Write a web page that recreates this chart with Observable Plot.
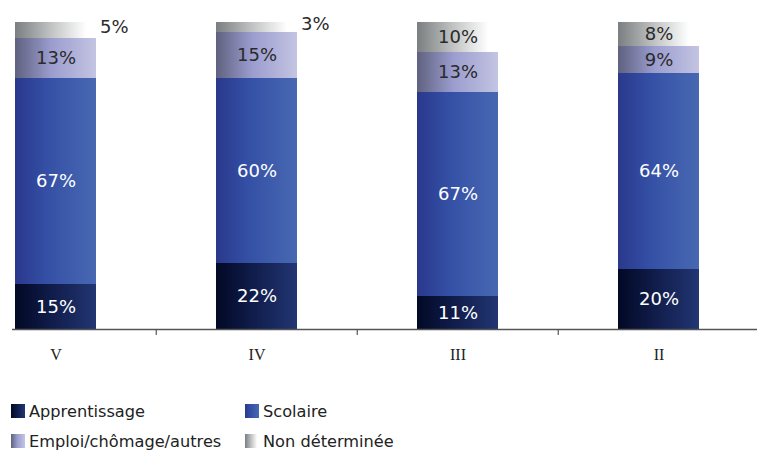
<!DOCTYPE html>
<html><head><meta charset="utf-8">
<script src="https://cdn.jsdelivr.net/npm/d3@7"></script>
<script src="https://cdn.jsdelivr.net/npm/@observablehq/plot@0.6"></script>
<style>
html,body{margin:0;padding:0;background:#fff;overflow:hidden;}
#chart svg{display:block;}
.legend{font-family:"DejaVu Sans",sans-serif;font-size:16.2px;color:#222;}
.row{display:flex;height:30px;align-items:center;}
.item{display:flex;align-items:center;}
.item.c1{width:234px;padding-left:11px;}
.sw{width:14px;height:14px;margin-right:4px;}
</style>
</head><body>
<div id="chart"></div>
<div class="legend" id="legend"></div>
<script>
const categories = ["V", "IV", "III", "II"];
const series = ["Apprentissage", "Scolaire", "Emploi/chômage/autres", "Non déterminée"];
const apprentissage = [14.7, 21.6, 10.6, 19.6];
const scolaire      = [67.2, 60.2, 66.6, 63.8];
const emploi        = [12.9, 15.0, 12.9, 8.8];
const nonDeterminee = [5.2, 3.2, 9.9, 7.8];

const gradStops = [
  [[0, "#020925"], [0.45, "#101c4a"], [1, "#223673"]],
  [[0, "#2a388c"], [0.4, "#3450a5"], [1, "#4868b2"]],
  [[0, "#5e617e"], [0.45, "#9b9dcf"], [1, "#c4c4e2"]],
  [[0, "#7a7e80"], [0.5, "#c9cbcb"], [0.88, "#ffffff"], [1, "#ffffff"]]
];
const gradIds = series.map((s, i) => "grad" + i);

const valuesBySeries = [apprentissage, scolaire, emploi, nonDeterminee];
const data = [];
categories.forEach((c, ci) => {
  series.forEach((s, si) => {
    data.push({cat: c, series: s, si, value: valuesBySeries[si][ci]});
  });
});

const W = 757, H = 396;
const xRange = [-46.5, 759.5];
const step = (xRange[1] - xRange[0]) / categories.length;
const barW = 82;
const inset = (step - barW) / 2;

const labelFont = "DejaVu Sans, sans-serif";
const fmt = d => Math.round(d.value) + "%";

const chart = Plot.plot({
  width: W,
  height: H,
  marginLeft: 12,
  marginRight: 0,
  marginTop: 22,
  marginBottom: H - 329,
  x: {domain: categories, range: xRange, padding: 0, axis: null, label: null},
  y: {domain: [0, 100], axis: null},
  color: {type: "ordinal", domain: series, range: gradIds.map(id => `url(#${id})`)},
  marks: [
    Plot.barY(data, Plot.stackY({x: "cat", y: "value", fill: "series", insetLeft: inset, insetRight: inset, shapeRendering: "crispEdges"})),
    Plot.text(data.filter(d => d.value >= 6 && d.si < 2), Plot.stackY({
      x: "cat", y: "value", z: "series", text: fmt,
      fill: "white", fontSize: 18, fontFamily: labelFont
    })),
    Plot.text(data, Plot.stackY({
      x: "cat", y: "value", z: "series",
      text: d => (d.si >= 2 && d.value >= 6) ? fmt(d) : "",
      fill: "#2a2a2a", fontSize: 18, fontFamily: labelFont
    })),
    Plot.text(data, Plot.stackY({
      x: "cat", y: "value", z: "series",
      text: d => (d.value < 6) ? fmt(d) : "",
      fill: "#2a2a2a", fontSize: 18, fontFamily: labelFont,
      textAnchor: "start", dx: barW / 2 + 3, dy: -3
    })),
    Plot.ruleY([0], {stroke: "#555", strokeWidth: 1.5}),
    Plot.ruleX(categories.slice(1), {x: d => d, y1: 0, y2: 0, insetBottom: -6, dx: -step / 2, stroke: "#555", strokeWidth: 1.2}),
    Plot.axisX({tickSize: 0, tickPadding: 19, fontSize: 16, fontFamily: "Liberation Serif, serif", color: "#222", label: null})
  ]
});

const defs = d3.select(chart).insert("defs", ":first-child");
gradStops.forEach((stops, i) => {
  const g = defs.append("linearGradient").attr("id", gradIds[i])
    .attr("x1", 0).attr("x2", 1).attr("y1", 0).attr("y2", 0);
  stops.forEach(([o, c]) => g.append("stop").attr("offset", o).attr("stop-color", c));
});
d3.select(chart).style("overflow", "visible");
document.getElementById("chart").appendChild(chart);

const cssGrad = stops => `linear-gradient(to right, ${stops.map(([o, c]) => `${c} ${o * 100}%`).join(", ")})`;
const legend = document.getElementById("legend");
[[0, 1], [2, 3]].forEach(pair => {
  const row = document.createElement("div");
  row.className = "row";
  pair.forEach((si, k) => {
    const item = document.createElement("div");
    item.className = "item" + (k === 0 ? " c1" : "");
    const sw = document.createElement("span");
    sw.className = "sw";
    sw.style.background = cssGrad(gradStops[si]);
    const t = document.createElement("span");
    t.textContent = series[si];
    item.appendChild(sw);
    item.appendChild(t);
    row.appendChild(item);
  });
  legend.appendChild(row);
});
</script>
</body></html>
